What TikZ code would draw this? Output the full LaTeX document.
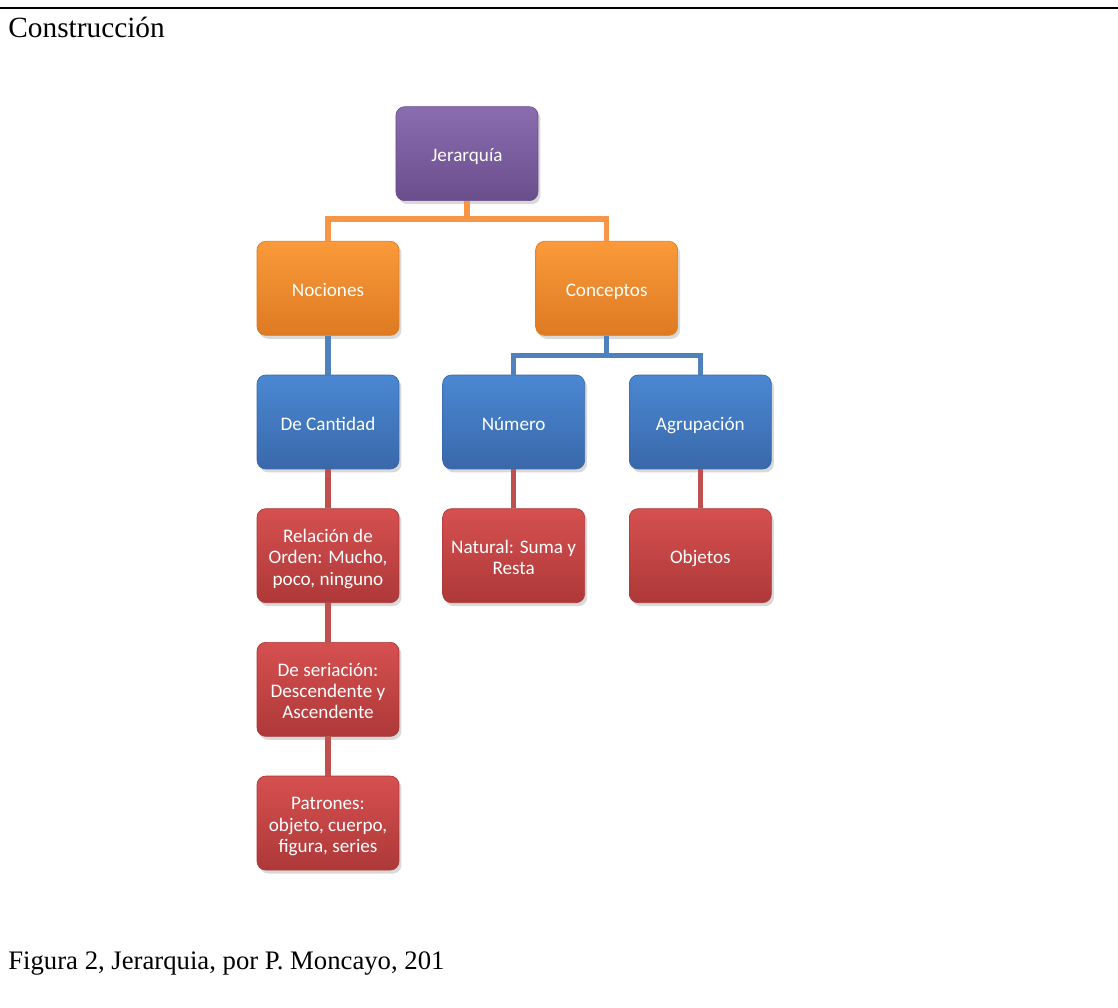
\documentclass[tikz,border=0pt]{standalone}
\usepackage{fontspec}
\setmainfont{Liberation Serif}
\newfontfamily\boxfont{Carlito}
\usetikzlibrary{positioning,shadows}

\definecolor{purpletop}{HTML}{8A6DB0}
\definecolor{purplebot}{HTML}{6A4E8C}
\definecolor{orangetop}{HTML}{FA9A3A}
\definecolor{orangebot}{HTML}{DE7A22}
\definecolor{bluetop}{HTML}{4A88D2}
\definecolor{bluebot}{HTML}{3968AA}
\definecolor{redtop}{HTML}{D65050}
\definecolor{redbot}{HTML}{AE3838}
\definecolor{orangelink}{HTML}{F79646}
\definecolor{bluelink}{HTML}{4F81BD}
\definecolor{redlink}{HTML}{C0504D}

\tikzset{
  box/.style = {rectangle, rounded corners=5pt, minimum width=2.84cm,
    minimum height=1.88cm, inner sep=2pt, text width=2.64cm, align=flush center, text=white,
    font=\boxfont\fontsize{10.9}{12.2}\selectfont, line width=0.4pt,
    execute at begin node={\rule{0pt}{\dimexpr0.7\baselineskip+4.4pt\relax}},
    execute at end node=\strut,
    drop shadow={shadow xshift=0.5mm, shadow yshift=-0.7mm, opacity=0.3}},
  purplebox/.style = {box, top color=purpletop, bottom color=purplebot, draw=purplebot},
  orangebox/.style = {box, top color=orangetop, bottom color=orangebot, draw=orangebot},
  bluebox/.style = {box, top color=bluetop, bottom color=bluebot, draw=bluebot},
  redbox/.style = {box, top color=redtop, bottom color=redbot, draw=redbot},
  link/.style = {line width=2.9pt},
}

\begin{document}
\begin{tikzpicture}[x=0.02cm, y=-0.02cm]
    \useasboundingbox (0,0) rectangle (1118,1007);
    \draw[line width=1.7pt] (0,8) -- (1118,8);
    \node[anchor=base west, inner sep=0, font=\fontsize{16.7}{20}\selectfont] (title) at (8,38) {Construcción};

    % second row of the tree
    \node[bluebox] (cant) at (328,422) {De Cantidad};
    \node[bluebox, right = 0.86cm of cant] (num) {Número};
    \node[bluebox, right = 0.88cm of num] (agr) {Agrupación};

    \node[orangebox, above = 0.78cm of cant] (noc) {Nociones};
    \node[orangebox, right = 2.72cm of noc] (con) {Conceptos};
    \node[purplebox, above = 0.8cm of noc, xshift = 2.78cm] (jer) {Jerarquía};

    \node[redbox, below = 0.78cm of cant] (rel) {Relación de\\Orden: Mucho,\\poco, ninguno};
    \node[redbox, below = 0.78cm of rel] (ser) {De seriación:\\Descendente y\\Ascendente};
    \node[redbox, below = 0.78cm of ser] (pat) {Patrones:\\objeto, cuerpo,\\figura, series};
    \node[redbox, below = 0.78cm of num] (nat) {Natural: Suma y\\Resta};
    \node[redbox, below = 0.78cm of agr] (obj) {Objetos};

    \draw[link, orangelink] (jer.south) -- ++(0,-0.36cm) coordinate (jj) -| (noc.north);
    \draw[link, orangelink] (jj) -| (con.north);
    \draw[link, bluelink] (noc.south) -- (cant.north);
    \draw[link, bluelink] (con.south) -- ++(0,-0.39cm) coordinate (cc) -| (num.north);
    \draw[link, bluelink] (cc) -| (agr.north);
    \draw[link, redlink] (cant.south) -- (rel.north);
    \draw[link, redlink] (rel.south) -- (ser.north);
    \draw[link, redlink] (ser.south) -- (pat.north);
    \draw[link, redlink] (num.south) -- (nat.north);
    \draw[link, redlink] (agr.south) -- (obj.north);

    \node[anchor=base west, inner sep=0, font=\fontsize{15.2}{18}\selectfont] (caption) at (8,969) {Figura 2, Jerarquia, por P. Moncayo, 201};
\end{tikzpicture}
\end{document}
